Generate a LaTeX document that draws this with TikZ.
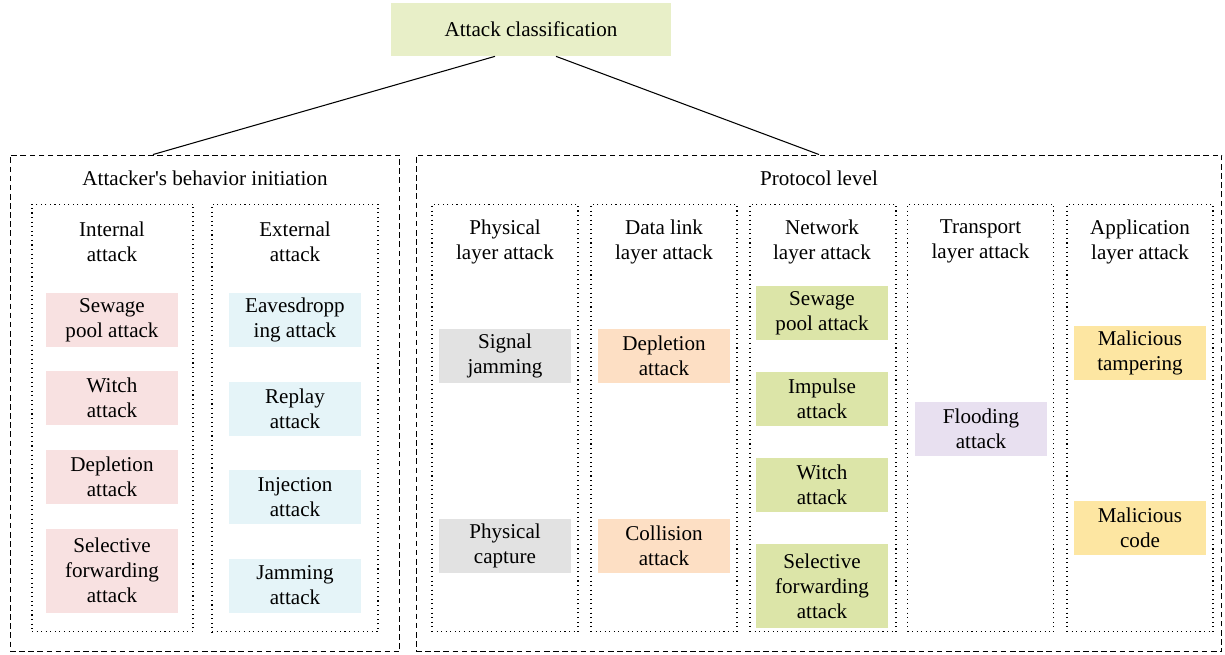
\documentclass[tikz,border=0pt]{standalone}
\usepackage{fontspec}
\setmainfont{Liberation Serif}
\usetikzlibrary{positioning,calc}

\definecolor{rootfill}{HTML}{E8EFC8}
\definecolor{pinkfill}{HTML}{F8E1E1}
\definecolor{bluefill}{HTML}{E5F4F8}
\definecolor{grayfill}{HTML}{E2E2E2}
\definecolor{orangefill}{HTML}{FDDFC4}
\definecolor{greenfill}{HTML}{DCE5A8}
\definecolor{purplefill}{HTML}{E8E0F0}
\definecolor{yellowfill}{HTML}{FDE6A2}

\begin{document}
\begin{tikzpicture}[
    x=0.02cm, y=-0.02cm,
    font=\fontsize{12}{14.2}\selectfont,
    root/.style={rectangle, fill=rootfill, minimum width=5.6cm, minimum height=1.06cm},
    attack/.style={rectangle, minimum width=2.64cm, minimum height=1.08cm, align=center, inner sep=0pt},
    tall/.style={attack, minimum height=1.68cm},
    group/.style={rectangle, draw, dash pattern=on 3.2pt off 2pt, line width=0.6pt, minimum height=9.94cm},
    column/.style={rectangle, draw, dotted, line width=0.6pt, minimum height=8.56cm},
    head/.style={align=center},
    link/.style={line width=0.6pt}
]
\useasboundingbox (0,0) rectangle (1225,654);

% top
\node[root] (root) at (531,29.5) {Attack classification};

% the two groups
\node[group, minimum width=7.8cm] (behav) at (205,403.5) {};
\node[group, minimum width=16.12cm] (proto) at (819,403.5) {};
\node (behavtitle) at (205,178) {Attacker\textquotesingle s behavior initiation};
\node (prototitle) at (819,178) {Protocol level};

\draw[link] ($(root.south)+(-36,0)$) -- ($(behav.north)+(-52,0)$);
\draw[link] ($(root.south)+(25,0)$) -- (proto.north);

% columns
\node[column, minimum width=3.22cm] (internal) at (112.5,418) {};
\node[column, minimum width=3.32cm] (external) at (295,418) {};
\node[column, minimum width=2.92cm] (physical) at (505,418) {};
\node[column, minimum width=2.92cm] (datalink) at (664,418) {};
\node[column, minimum width=2.92cm] (network) at (823,418) {};
\node[column, minimum width=2.92cm] (transport) at (980.5,418) {};
\node[column, minimum width=2.92cm] (application) at (1140,418) {};

\node[head] (internalhead) at (112,241.5) {Internal\\attack};
\node[head] (externalhead) at (295,241.5) {External\\attack};
\node[head] (physicalhead) at (505,241.5) {Physical\\layer attack};
\node[head] (datalinkhead) at (664,241.5) {Data link\\layer attack};
\node[head] (networkhead) at (822,241.5) {Network\\layer attack};
\node[head] (transporthead) at (980.5,241.5) {Transport\\layer attack};
\node[head] (applicationhead) at (1140,241.5) {Application\\layer attack};

% internal attack
\node[attack, fill=pinkfill] (intsewage) at (112,320) {Sewage\\pool attack};
\node[attack, fill=pinkfill] (intwitch) at (112,398) {Witch\\attack};
\node[attack, fill=pinkfill] (intdepletion) at (112,477) {Depletion\\attack};
\node[tall, fill=pinkfill] (intselective) at (112,570.5) {Selective\\forwarding\\attack};

% external attack
\node[attack, fill=bluefill] (exteaves) at (295,320) {Eavesdropp\\ing attack};
\node[attack, fill=bluefill] (extreplay) at (295,409) {Replay\\attack};
\node[attack, fill=bluefill] (extinjection) at (295,497) {Injection\\attack};
\node[attack, fill=bluefill] (extjamming) at (295,585.5) {Jamming\\attack};

% physical layer
\node[attack, fill=grayfill] (phyjamming) at (505,356) {Signal\\jamming};
\node[attack, fill=grayfill] (phycapture) at (505,546) {Physical\\capture};

% data link layer
\node[attack, fill=orangefill] (dldepletion) at (664,356) {Depletion\\attack};
\node[attack, fill=orangefill] (dlcollision) at (664,546) {Collision\\attack};

% network layer
\node[attack, fill=greenfill] (netsewage) at (822,313) {Sewage\\pool attack};
\node[attack, fill=greenfill] (netimpulse) at (822,399) {Impulse\\attack};
\node[attack, fill=greenfill] (netwitch) at (822,485) {Witch\\attack};
\node[tall, fill=greenfill] (netselective) at (822,586) {Selective\\forwarding\\attack};

% transport layer
\node[attack, fill=purplefill] (trflooding) at (981,429) {Flooding\\attack};

% application layer
\node[attack, fill=yellowfill] (apptamper) at (1140,353) {Malicious\\tampering};
\node[attack, fill=yellowfill] (appcode) at (1140,528) {Malicious\\code};
\end{tikzpicture}
\end{document}
